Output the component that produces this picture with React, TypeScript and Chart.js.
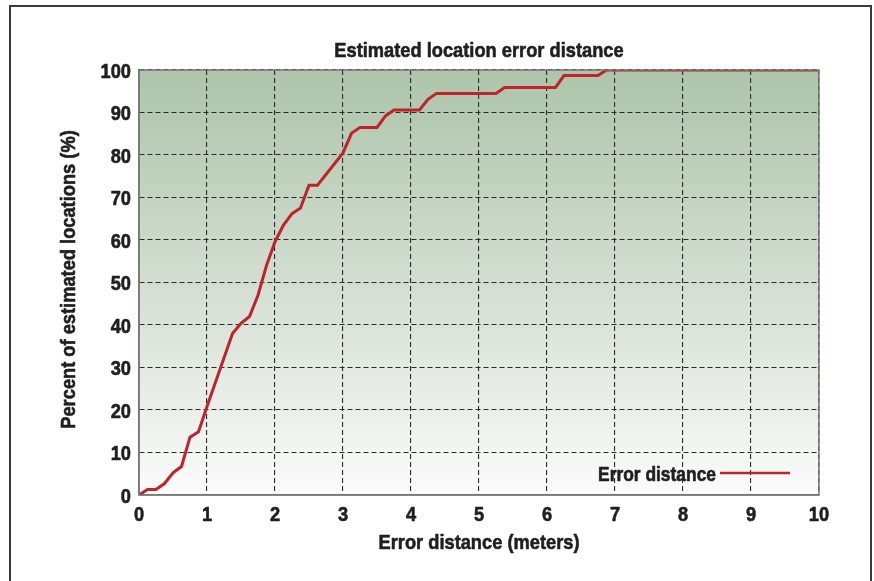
import React, { useEffect, useRef } from "react";
import { Chart, registerables } from "chart.js";

Chart.register(...registerables);

const chartTitle = "Estimated location error distance";
const xAxisTitle = "Error distance (meters)";
const yAxisTitle = "Percent of estimated locations (%)";
const seriesLabel = "Error distance";

// Error distance (meters)
const errorDistance = [
  0, 0.125, 0.25, 0.375, 0.5, 0.625, 0.75, 0.875, 1.0, 1.375, 1.5, 1.625, 1.75,
  1.875, 2.0, 2.125, 2.25, 2.375, 2.5, 2.625, 3.0, 3.125, 3.25, 3.5, 3.625, 3.75,
  4.125, 4.25, 4.375, 5.25, 5.375, 6.125, 6.25, 6.75, 6.875, 10,
];
// Percent of estimated locations (%)
const percentLocations = [
  0, 1.3, 1.3, 2.7, 5.2, 6.7, 13.6, 14.9, 20.8, 38, 40.4, 42, 47,
  54, 59.6, 63.5, 66.2, 67.5, 72.9, 72.9, 80.5, 85.1, 86.5, 86.5, 89.2, 90.6,
  90.6, 93.1, 94.5, 94.5, 95.9, 95.9, 98.7, 98.7, 100, 100,
];

const xMin = 0;
const xMax = 10;
const xStep = 1;
const yMin = 0;
const yMax = 100;
const yStep = 10;

const FONT = "'Liberation Sans', Arial, sans-serif";
const TEXT = "#1f1f1f";
const LINE_RED = "#bf232b";
const SX = 0.87; // horizontal condensing of the bold sans text

function narrowText(
  ctx: CanvasRenderingContext2D,
  text: string,
  x: number,
  y: number,
  size: number,
  align: CanvasTextAlign,
  rotate = 0
) {
  ctx.save();
  ctx.translate(x, y);
  if (rotate) ctx.rotate(rotate);
  ctx.scale(SX, 1);
  ctx.font = `bold ${size}px ${FONT}`;
  ctx.fillStyle = TEXT;
  ctx.strokeStyle = TEXT;
  ctx.lineWidth = 0.6;
  ctx.lineJoin = "round";
  ctx.textAlign = align;
  ctx.textBaseline = "alphabetic";
  ctx.fillText(text, 0, 0);
  ctx.strokeText(text, 0, 0);
  ctx.restore();
}

const backgroundPlugin = {
  id: "plotBackground",
  beforeDraw(chart: any) {
    const { ctx, chartArea } = chart;
    if (!chartArea) return;
    const g = ctx.createLinearGradient(0, chartArea.top, 0, chartArea.bottom);
    g.addColorStop(0, "#adc4aa");
    g.addColorStop(0.5, "#d3ded1");
    g.addColorStop(1, "#fbfbfb");
    ctx.save();
    ctx.fillStyle = g;
    ctx.fillRect(chartArea.left, chartArea.top, chartArea.right - chartArea.left, chartArea.bottom - chartArea.top);
    ctx.restore();
  },
  afterDraw(chart: any) {
    const { ctx, chartArea, scales } = chart;
    ctx.save();
    ctx.strokeStyle = "#777777";
    ctx.lineWidth = 1.5;
    ctx.strokeRect(chartArea.left, chartArea.top, chartArea.right - chartArea.left, chartArea.bottom - chartArea.top);
    ctx.restore();

    const xs = scales.x;
    const ys = scales.y;
    // tick labels
    xs.ticks.forEach((t: any) => {
      narrowText(ctx, String(t.value), xs.getPixelForValue(t.value), chartArea.bottom + 26, 21, "center");
    });
    ys.ticks.forEach((t: any) => {
      narrowText(ctx, String(t.value), chartArea.left - 8, ys.getPixelForValue(t.value) + 7.5, 21, "right");
    });
    const cx = (chartArea.left + chartArea.right) / 2;
    const cy = (chartArea.top + chartArea.bottom) / 2;
    // titles
    narrowText(ctx, chartTitle, cx, chartArea.top - 13, 21, "center");
    narrowText(ctx, xAxisTitle, cx, chartArea.bottom + 54, 21, "center");
    narrowText(ctx, yAxisTitle, chartArea.left - 64, cy - 3, 21, "center", -Math.PI / 2);
  },
};

const innerLegendPlugin = {
  id: "innerLegend",
  afterDatasetsDraw(chart: any) {
    const { ctx, chartArea } = chart;
    const ds = chart.data.datasets[0];
    const y = chartArea.bottom - 22;
    const textRight = chartArea.right - 103;
    narrowText(ctx, ds.label, textRight, y + 7.5, 20, "right");
    ctx.save();
    ctx.strokeStyle = ds.borderColor;
    ctx.lineWidth = 2.5;
    ctx.beginPath();
    ctx.moveTo(textRight + 4, y);
    ctx.lineTo(chartArea.right - 29, y);
    ctx.stroke();
    ctx.restore();
  },
};

function ErrorChart() {
  const ref = useRef<HTMLCanvasElement | null>(null);
  useEffect(() => {
    if (!ref.current) return;
    const chart = new Chart(ref.current, {
      type: "line",
      data: {
        datasets: [
          {
            label: seriesLabel,
            data: errorDistance.map((x, i) => ({ x, y: percentLocations[i] })),
            borderColor: LINE_RED,
            borderWidth: 3,
            pointRadius: 0,
            tension: 0,
            fill: false,
          },
        ],
      },
      options: {
        animation: false,
        responsive: false,
        maintainAspectRatio: false,
        layout: { padding: { left: 0, right: 55, top: 70, bottom: 0 } },
        plugins: {
          legend: { display: false },
          tooltip: { enabled: false },
          title: { display: false },
        },
        scales: {
          x: {
            type: "linear",
            min: xMin,
            max: xMax,
            ticks: { stepSize: xStep, display: false },
            grid: { color: "#2a2a2a", lineWidth: 1.1, drawTicks: false },
            border: { display: true, color: "#777777", width: 1.5, dash: [5, 3] },
            title: { display: false },
            afterFit(scale: any) {
              scale.height = 86;
            },
          },
          y: {
            type: "linear",
            min: yMin,
            max: yMax,
            ticks: { stepSize: yStep, display: false },
            grid: { color: "#2a2a2a", lineWidth: 1.1, drawTicks: false },
            border: { display: true, color: "#777777", width: 1.5, dash: [5, 3] },
            title: { display: false },
            afterFit(scale: any) {
              scale.width = 139;
            },
          },
        },
      } as any,
      plugins: [backgroundPlugin, innerLegendPlugin],
    });
    return () => chart.destroy();
  }, []);

  return (
    <div style={{ position: "absolute", left: 0, top: 0, width: 874, height: 581, overflow: "hidden", background: "#ffffff" }}>
      <div
        style={{
          position: "absolute",
          left: 9,
          top: 5,
          width: 863,
          height: 640,
          border: "2px solid #3a3a3a",
          boxSizing: "border-box",
        }}
      />
      <canvas ref={ref} width={874} height={581} style={{ position: "absolute", left: 0, top: 0, width: 874, height: 581 }} />
    </div>
  );
}

export default function App() {
  return <ErrorChart />;
}
